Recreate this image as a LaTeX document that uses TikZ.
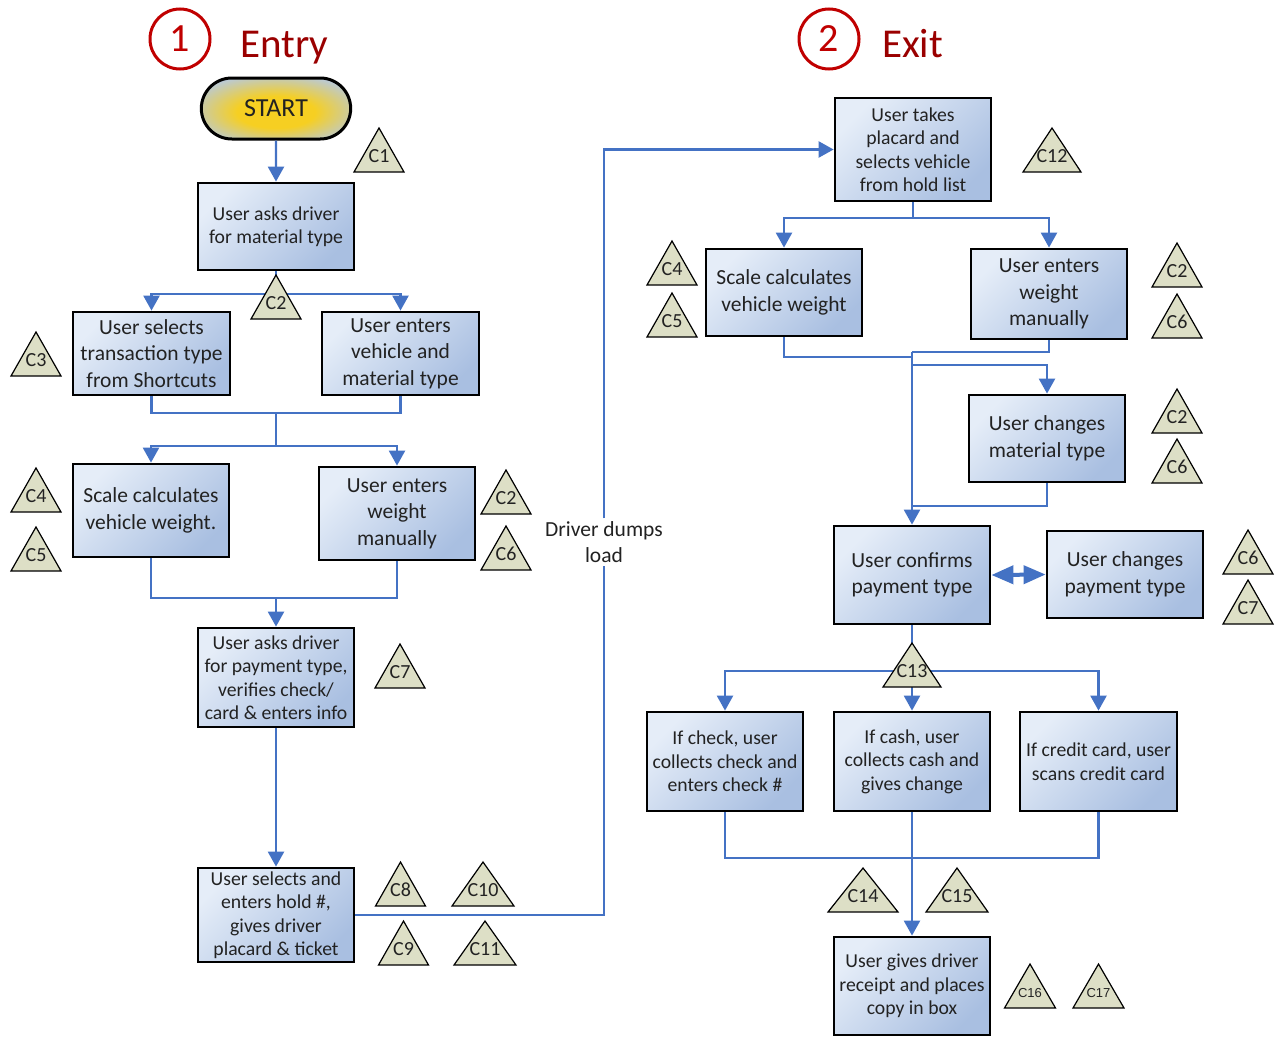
\documentclass[tikz,border=0pt]{standalone}
\usepackage{fontspec}
\setmainfont{Carlito}
\newfontfamily\arialf{Liberation Sans}
\usetikzlibrary{arrows.meta,shapes.misc}
\definecolor{boxL}{HTML}{E5EDF8}
\definecolor{boxD}{HTML}{A9BFE1}
\definecolor{connc}{HTML}{4472C4}
\definecolor{trif}{HTML}{DDDFC6}
\definecolor{numred}{HTML}{C00000}
\definecolor{titred}{HTML}{9A0000}
\definecolor{txt}{HTML}{222222}
\definecolor{startgold}{HTML}{F6CF22}
\definecolor{startblue}{HTML}{B7C9DE}
\pgfdeclareradialshading{startsh}{\pgfpoint{0bp}{-4bp}}{color(0bp)=(startgold); color(13bp)=(startgold); color(31bp)=(startblue); color(50bp)=(startblue)}
\newcommand\ctri[5]{%
  \draw[tri] (#2,#3) ++(-#4,22) -- ++(#4,-44) -- ++(#4,44) -- cycle;
  \node[trilabel] (#1) at (#2,#3+6) {#5};
}
\begin{document}
\begin{tikzpicture}[x=1pt,y=-1pt,
  box/.style={draw=black, line width=2.8pt, top color=boxL, bottom color=boxD, shading angle=45, text=txt, align=center, inner sep=2pt},
  sbox/.style={box, font=\fontsize{19.7}{23.5}\selectfont},
  lbox/.style={box, font=\fontsize{21.5}{26.5}\selectfont},
  conn/.style={draw=connc, line width=2.4pt},
  arr/.style={conn, -{Triangle[length=15pt,width=16pt]}},
  tri/.style={draw=black, line width=1.2pt, fill=trif, line join=miter},
  trilabel/.style={text=txt, font=\fontsize{20}{20}\selectfont, inner sep=0pt},
  smalltri/.style={text=txt, font=\arialf\fontsize{13}{13}\selectfont, inner sep=0pt},
  numc/.style={circle, draw=numred, line width=3pt, minimum size=60pt, inner sep=0pt, text=numred, font=\fontsize{40}{40}\selectfont},
  title/.style={text=titred, font=\fontsize{41}{41}\selectfont, anchor=base west, inner sep=0pt}
]
\useasboundingbox (0,0) rectangle (1281,1036);

% titles
\node[numc] (n1) at (180,39) {1};
\node[title] (entry) at (240,57) {Entry};
\node[numc] (n2) at (829,39) {2};
\node[title] (exit) at (882,57) {Exit};

% ---------- Entry column ----------
\node[rounded rectangle, draw=black, line width=3pt, minimum width=156pt, minimum height=61pt,
      shading=startsh, text=txt, font=\fontsize{26}{26}\selectfont] (start) at (276,108.5) {START};
\node[sbox, minimum width=156pt, minimum height=87pt] (b1) at (276,226.5) {User asks driver\\for material type};
\node[lbox, minimum width=157pt, minimum height=83pt] (b2a) at (151.5,353.5) {User selects\\transaction type\\from Shortcuts};
\node[lbox, minimum width=157pt, minimum height=83pt] (b2b) at (400.5,353.5) {User enters\\vehicle and\\material type};
\node[lbox, minimum width=156pt, minimum height=93pt] (b3a) at (151,510.5) {Scale calculates\\vehicle weight.};
\node[lbox, minimum width=156pt, minimum height=93pt] (b3b) at (397,513.5) {User enters\\weight\\manually};
\node[sbox, minimum width=156pt, minimum height=99pt] (b4) at (276,677.5) {User asks driver\\for payment type,\\verifies check/\\card \& enters info};
\node[sbox, minimum width=156pt, minimum height=94pt] (b5) at (276,915) {User selects and\\enters hold \#,\\gives driver\\placard \& ticket};

\coordinate (j1) at (276,294);
\coordinate (j2) at (276,413);
\coordinate (j3) at (276,446);
\coordinate (j4) at (276,598);

\draw[arr] (start) -- (b1);
\draw[conn] (b1.south) -- (j1);
\draw[arr] (j1) -| (b2a.north);
\draw[arr] (j1) -| (b2b.north);
\draw[conn] (b2a.south) |- (j2) -| (b2b.south);
\draw[conn] (j2) -- (j3);
\draw[arr] (j3) -| (b3a.north);
\draw[arr] (j3) -| (b3b.north);
\draw[conn] (b3a.south) |- (j4) -| (b3b.south);
\draw[arr] (j4) -- (b4.north);
\draw[arr] (b4.south) -- (b5.north);

% ---------- Exit column ----------
\node[sbox, minimum width=156pt, minimum height=103pt] (b6) at (913,149.5) {User takes\\placard and\\selects vehicle\\from hold list};
\node[lbox, minimum width=156pt, minimum height=87pt] (b7a) at (784,292.5) {Scale calculates\\vehicle weight};
\node[lbox, minimum width=156pt, minimum height=90pt] (b7b) at (1049,294) {User enters\\weight\\manually};
\node[lbox, minimum width=156pt, minimum height=87pt] (b8) at (1047,438.5) {User changes\\material type};
\node[lbox, minimum width=156pt, minimum height=98pt] (b9) at (912,575) {User confirms\\payment type};
\node[lbox, minimum width=156pt, minimum height=87pt] (b10) at (1125,574.5) {User changes\\payment type};
\node[sbox, minimum width=156pt, minimum height=99pt] (b11a) at (725,761.5) {If check, user\\collects check and\\enters check \#};
\node[sbox, minimum width=156pt, minimum height=99pt] (b11b) at (912,761.5) {If cash, user\\collects cash and\\gives change};
\node[sbox, minimum width=157pt, minimum height=99pt] (b11c) at (1098.5,761.5) {If credit card, user\\scans credit card};
\node[sbox, minimum width=156pt, minimum height=98pt] (b12) at (912,986) {User gives driver\\receipt and places\\copy in box};

% driver dumps load link
\node[text=txt, fill=white, align=center, inner sep=3pt, font=\fontsize{21.5}{26}\selectfont] (dump) at (604,542) {Driver dumps\\load};
\draw[conn] (b5.east) -| (dump.south);
\draw[arr] (dump.north) |- (b6.west);

\coordinate (j5) at (913,218);
\coordinate (j6) at (912,357);
\coordinate (j7) at (912,352);
\coordinate (j8) at (912,365);
\coordinate (j9) at (912,506);
\coordinate (j10) at (912,671);
\coordinate (j11) at (912,858);

\draw[conn] (b6.south) -- (j5);
\draw[arr] (j5) -| (b7a.north);
\draw[arr] (j5) -| (b7b.north);
\draw[conn] (b7a.south) |- (j6);
\draw[conn] (b7b.south) |- (j7);
\draw[arr] (j7) -- (b9.north);
\draw[arr] (j8) -| (b8.north);
\draw[conn] (b8.south) |- (j9);
\draw[draw=connc, line width=4pt, {Triangle[length=22pt,width=18pt]}-{Triangle[length=22pt,width=18pt]}] (b9.east) -- (b10.west);
\draw[conn] (b9.south) -- (j10);
\draw[arr] (j10) -| (b11a.north);
\draw[arr] (j10) -- (b11b.north);
\draw[arr] (j10) -| (b11c.north);
\draw[conn] (b11a.south) |- (j11) -| (b11c.south);
\draw[arr] (b11b.south) -- (b12.north);

% ---------- triangles ----------
\ctri{t1}{379}{150}{25}{C1}
\ctri{t2}{276}{297}{25}{C2}
\ctri{t3}{36}{354}{25}{C3}
\ctri{t4}{36}{490}{25}{C4}
\ctri{t5}{36}{549}{25}{C5}
\ctri{t6}{506}{492}{25}{C2}
\ctri{t7}{506}{548}{25}{C6}
\ctri{t8}{400}{666}{25}{C7}
\ctri{t9}{400.5}{884}{25}{C8}
\ctri{t10}{403.5}{943}{25}{C9}
\ctri{t11}{483}{884}{31}{C10}
\ctri{t12}{485}{943}{31}{C11}
\ctri{t13}{1052}{150}{29}{C12}
\ctri{t14}{672}{263}{25}{C4}
\ctri{t15}{672}{315}{25}{C5}
\ctri{t16}{1177}{265}{25}{C2}
\ctri{t17}{1177}{316}{25}{C6}
\ctri{t18}{1177}{411}{25}{C2}
\ctri{t19}{1177}{461}{25}{C6}
\ctri{t20}{1248}{552}{25}{C6}
\ctri{t21}{1248}{602}{25}{C7}
\ctri{t22}{912}{665}{29}{C13}
\ctri{t23}{863}{890}{35}{C14}
\ctri{t24}{957}{890}{31}{C15}
\draw[tri] (1030,986) ++(-25.5,22) -- ++(25.5,-44) -- ++(25.5,44) -- cycle;
\node[smalltri] (t25) at (1030,993) {C16};
\draw[tri] (1098.5,986) ++(-25.5,22) -- ++(25.5,-44) -- ++(25.5,44) -- cycle;
\node[smalltri] (t26) at (1098.5,993) {C17};
\end{tikzpicture}
\end{document}
